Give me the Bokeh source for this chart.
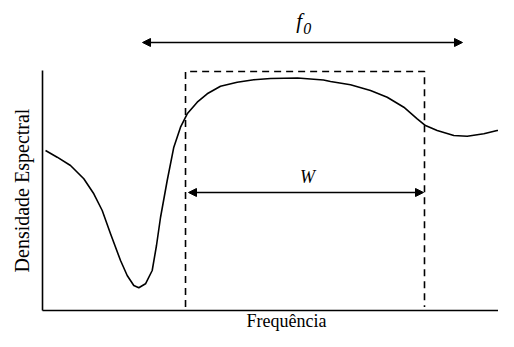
from bokeh.plotting import figure
from bokeh.models import Range1d, Arrow, NormalHead
from bokeh.core.properties import value
from bokeh.embed import file_html
from bokeh.resources import INLINE

# Spectral density curve (arbitrary units)
freq = [0.064, 0.311, 0.593, 0.875, 1.087, 1.265, 1.441, 1.653, 1.794, 1.934, 2.040,
        2.182, 2.324, 2.415, 2.500, 2.642, 2.782, 2.924, 3.066, 3.278, 3.489, 3.771,
        4.125, 4.477, 4.831, 5.403, 5.953, 6.102, 6.525, 6.949, 7.303, 7.655, 7.939,
        8.114, 8.362, 8.714, 8.998, 9.350, 9.633, 9.985]
density = [6.667, 6.388, 6.042, 5.488, 4.863, 4.167, 3.196, 2.083, 1.458, 1.042, 0.946,
           1.113, 1.667, 2.708, 3.875, 5.417, 6.804, 7.638, 8.196, 8.679, 9.029, 9.346,
           9.513, 9.613, 9.667, 9.688, 9.604, 9.542, 9.404, 9.167, 8.888, 8.471, 7.988,
           7.708, 7.500, 7.292, 7.263, 7.363, 7.500, 7.596]

# Band window (dashed rectangle)
band_lo, band_hi, band_top = 3.030, 8.093, 9.958
# f0 span and W span
f0_lo, f0_hi, f0_y = 2.119, 8.898, 11.167
w_lo, w_hi, w_y = 3.093, 8.072, 4.917
axis_x_max, axis_y_max = 10.0, 10.0

x_label = "Frequência"
y_label = "Densidade Espectral"

p = figure(width=498, height=331, output_backend="svg", toolbar_location=None,
           x_axis_location=None, y_axis_location=None, min_border=0,
           x_range=Range1d(-0.890, 9.661), y_range=Range1d(-0.875, 12.917))
p.grid.visible = False
p.outline_line_color = None
p.background_fill_color = "white"

serif = value("Liberation Serif")

# axes
p.line([0, 0], [0, axis_y_max], line_color="black", line_width=1.6)
p.line([0, axis_x_max], [0, 0], line_color="black", line_width=1.6)

# dashed window
p.line([band_lo, band_lo, band_hi, band_hi], [0.15, band_top, band_top, 0.15],
       line_color="black", line_width=1.6, line_dash="7 5")

# curve
p.line(freq, density, line_color="black", line_width=1.6, line_join="round")

# arrows
for lo, hi, yy in [(f0_lo, f0_hi, f0_y), (w_lo, w_hi, w_y)]:
    p.add_layout(Arrow(x_start=lo, y_start=yy, x_end=hi, y_end=yy,
                       line_color="black", line_width=1.5,
                       start=NormalHead(size=8, fill_color="black", line_color="black"),
                       end=NormalHead(size=8, fill_color="black", line_color="black")))

# labels
p.text(x=[5.438], y=[12.083], text=["f"], text_font=serif, text_font_style="italic",
       text_font_size="21px", text_align="center", text_baseline="middle", text_color="black")
p.text(x=[5.608], y=[11.75], text=["0"], text_font=serif, text_font_style="italic",
       text_font_size="16px", text_align="center", text_baseline="middle", text_color="black")
p.text(x=[5.614], y=[5.583], text=["W"], text_font=serif, text_font_style="italic",
       text_font_size="18px", text_align="center", text_baseline="middle", text_color="black")
p.text(x=[5.169], y=[-0.458], text=[x_label], text_font=serif,
       text_font_size="18px", text_align="center", text_baseline="middle", text_color="black")
p.text(x=[-0.424], y=[5.0], text=[y_label], text_font=serif, angle=1.5708,
       text_font_size="20px", text_align="center", text_baseline="middle", text_color="black")

open("out.html", "w").write(file_html(p, INLINE))
